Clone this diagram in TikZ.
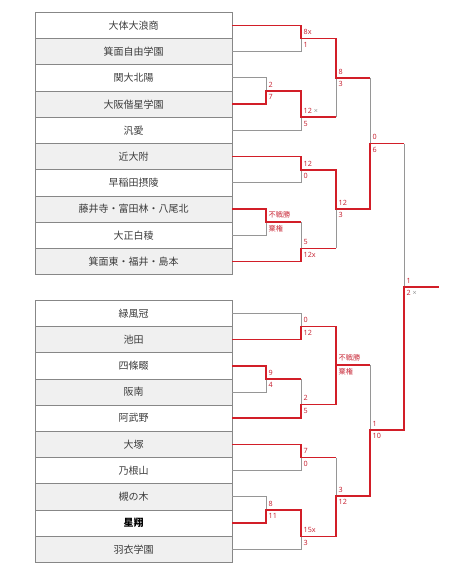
\documentclass[tikz,border=0pt]{standalone}
\usepackage{fontspec}
\setmainfont{Noto Sans CJK JP}
\newfontfamily\latinf{Noto Sans}
\newfontfamily\jpf{Noto Sans CJK JP}
\definecolor{bred}{RGB}{210,30,40}
\definecolor{lred}{RGB}{200,40,55}
\definecolor{lgray}{RGB}{150,150,150}
\definecolor{boxgray}{RGB}{135,135,135}
\definecolor{rowgray}{RGB}{240,240,240}
\definecolor{txtgray}{RGB}{60,60,60}
\begin{document}
\begin{tikzpicture}[x=1pt,y=-1pt,
 team/.style={draw=boxgray, line width=0.8pt, minimum width=197pt, minimum height=26.2pt, inner sep=0pt, outer sep=0pt, text=txtgray, font=\fontsize{10}{11}\selectfont},
 alt/.style={fill=rowgray},
 win/.style={draw=bred, line width=1.6pt},
 lose/.style={draw=lgray, line width=1pt},
 lab/.style={inner sep=0pt, text=lred, font=\latinf\fontsize{7.2}{8}\selectfont},
 up/.style={lab, anchor=south west, xshift=2.5pt, yshift=3.5pt},
 dn/.style={lab, anchor=north west, xshift=2.5pt, yshift=-3.5pt},
]
\useasboundingbox (0,0) rectangle (474,575);
% top group
\node[team] (t1) at (133.5,25.6) {大体大浪商};
\node[team,alt] (t2) at (133.5,51.8) {箕面自由学園};
\node[team] (t3) at (133.5,78.0) {関大北陽};
\node[team,alt] (t4) at (133.5,104.2) {大阪偕星学園};
\node[team] (t5) at (133.5,130.4) {汎愛};
\node[team,alt] (t6) at (133.5,156.6) {近大附};
\node[team] (t7) at (133.5,182.8) {早稲田摂陵};
\node[team,alt] (t8) at (133.5,209.0) {藤井寺・富田林・八尾北};
\node[team] (t9) at (133.5,235.2) {大正白稜};
\node[team,alt] (t10) at (133.5,261.4) {箕面東・福井・島本};
% bottom group
\node[team] (b1) at (133.5,313.4) {緑風冠};
\node[team,alt] (b2) at (133.5,339.6) {池田};
\node[team] (b3) at (133.5,365.8) {四條畷};
\node[team,alt] (b4) at (133.5,392.0) {阪南};
\node[team] (b5) at (133.5,418.2) {阿武野};
\node[team,alt] (b6) at (133.5,444.4) {大塚};
\node[team] (b7) at (133.5,470.6) {乃根山};
\node[team,alt] (b8) at (133.5,496.8) {槻の木};
\node[team,text=black] (b9) at (133.5,523.0) {\textbf{星翔}};
\node[team,alt] (b10) at (133.5,549.2) {羽衣学園};
% junctions
\coordinate (A1) at (301,38.7);
\coordinate (A2) at (266,91.1);
\coordinate (A3) at (301,117.3);
\coordinate (A4) at (336,78);
\coordinate (A5) at (301,169.7);
\coordinate (A6) at (266,222.1);
\coordinate (A7) at (301,248.3);
\coordinate (A8) at (336,209);
\coordinate (A9) at (370,143.5);
\coordinate (F) at (404,287);
\coordinate (fend) at (439,287);
\coordinate (B1) at (301,326.5);
\coordinate (B2) at (266,378.9);
\coordinate (B3) at (301,404.3);
\coordinate (B4) at (336,365);
\coordinate (B5) at (301,457.5);
\coordinate (B6) at (266,509.9);
\coordinate (B7) at (301,536.5);
\coordinate (B8) at (336,496);
\coordinate (B9) at (370,430);
% losing lines
\draw[lose] (t2.east) -| (A1);
\draw[lose] (t3.east) -| (A2);
\draw[lose] (t5.east) -| (A3);
\draw[lose] (A3 -| A4) -- (A4);
\draw[lose] (t7.east) -| (A5);
\draw[lose] (t9.east) -| (A6);
\draw[lose] (A6 -| A7) -- (A7);
\draw[lose] (A7 -| A8) -- (A8);
\draw[lose] (A4 -| A9) -- (A9);
\draw[lose] (A9 -| F) -- (F);
\draw[lose] (b1.east) -| (B1);
\draw[lose] (b4.east) -| (B2);
\draw[lose] (B2 -| B3) -- (B3);
\draw[lose] (B4 -| B9) -- (B9);
\draw[lose] (b7.east) -| (B5);
\draw[lose] (b8.east) -| (B6);
\draw[lose] (b10.east) -| (B7);
\draw[lose] (B5 -| B8) -- (B8);
% winning lines
\draw[win] (t1.east) -| (A1) -- (A1 -| A4) -- (A4) -- (A4 -| A9);
\draw[win] (t4.east) -| (A2) -- (A2 -| A3) -- (A3) -- (A3 -| A4);
\draw[win] (t6.east) -| (A5) -- (A5 -| A8) -- (A8) -- (A8 -| A9) -- (A9) -- (A9 -| F);
\draw[win] (t8.east) -| (A6) -- (A6 -| A7);
\draw[win] (t10.east) -| (A7) -- (A7 -| A8);
\draw[win] (b2.east) -| (B1) -- (B1 -| B4) -- (B4) -- (B4 -| B9);
\draw[win] (b3.east) -| (B2) -- (B2 -| B3);
\draw[win] (b5.east) -| (B3) -- (B3 -| B4) -- (B4);
\draw[win] (b6.east) -| (B5) -- (B5 -| B8);
\draw[win] (b9.east) -| (B6) -- (B6 -| B7) -- (B7) -- (B7 -| B8) -- (B8) -- (B8 -| B9) -- (B9) -- (B9 -| F) -- (F) -- (fend);
% scores
\node[up] (lA1u) at (A1) {8x};
\node[dn] (lA1d) at (A1) {1};
\node[up] (lA2u) at (A2) {2};
\node[dn] (lA2d) at (A2) {7};
\node[up] (lA3u) at (A3) {12 {\color{lgray}×}};
\node[dn] (lA3d) at (A3) {5};
\node[up] (lA4u) at (A4) {8};
\node[dn] (lA4d) at (A4) {3};
\node[up] (lA5u) at (A5) {12};
\node[dn] (lA5d) at (A5) {0};
\node[up] (lA6u) at (A6) {\jpf 不戦勝};
\node[dn] (lA6d) at (A6) {\jpf 棄権};
\node[up] (lA7u) at (A7) {5};
\node[dn] (lA7d) at (A7) {12x};
\node[up] (lA8u) at (A8) {12};
\node[dn] (lA8d) at (A8) {3};
\node[up] (lA9u) at (A9) {0};
\node[dn] (lA9d) at (A9) {6};
\node[up] (lFu) at (F) {1};
\node[dn] (lFd) at (F) {2 {\color{lgray}×}};
\node[up] (lB1u) at (B1) {0};
\node[dn] (lB1d) at (B1) {12};
\node[up] (lB2u) at (B2) {9};
\node[dn] (lB2d) at (B2) {4};
\node[up] (lB3u) at (B3) {2};
\node[dn] (lB3d) at (B3) {5};
\node[up] (lB4u) at (B4) {\jpf 不戦勝};
\node[dn] (lB4d) at (B4) {\jpf 棄権};
\node[up] (lB5u) at (B5) {7};
\node[dn] (lB5d) at (B5) {0};
\node[up] (lB6u) at (B6) {8};
\node[dn] (lB6d) at (B6) {11};
\node[up] (lB7u) at (B7) {15x};
\node[dn] (lB7d) at (B7) {3};
\node[up] (lB8u) at (B8) {3};
\node[dn] (lB8d) at (B8) {12};
\node[up] (lB9u) at (B9) {1};
\node[dn] (lB9d) at (B9) {10};
\end{tikzpicture}
\end{document}
